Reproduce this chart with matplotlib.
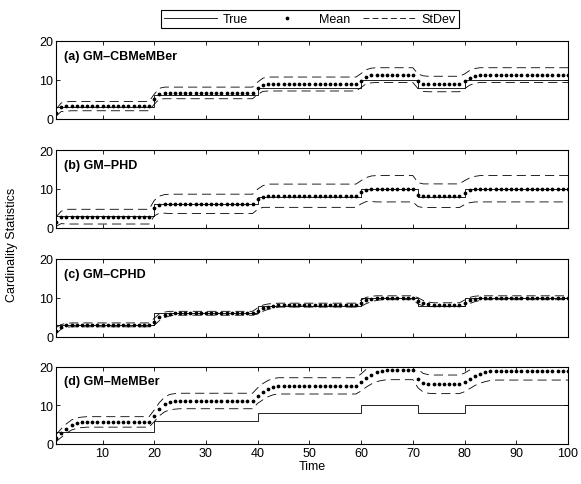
import numpy as np
import matplotlib
matplotlib.use('Agg')
import matplotlib.pyplot as plt
from matplotlib.lines import Line2D

plt.rcParams['font.family'] = ['Liberation Sans', 'DejaVu Sans']
plt.rcParams['font.size'] = 8.5

# --- data ---
time = list(range(1, 101))

true_card = [
    3, 3, 3, 3, 3, 3, 3, 3, 3, 3,
    3, 3, 3, 3, 3, 3, 3, 3, 3, 6,
    6, 6, 6, 6, 6, 6, 6, 6, 6, 6,
    6, 6, 6, 6, 6, 6, 6, 6, 6, 8,
    8, 8, 8, 8, 8, 8, 8, 8, 8, 8,
    8, 8, 8, 8, 8, 8, 8, 8, 8, 10,
    10, 10, 10, 10, 10, 10, 10, 10, 10, 10,
    8, 8, 8, 8, 8, 8, 8, 8, 8, 10,
    10, 10, 10, 10, 10, 10, 10, 10, 10, 10,
    10, 10, 10, 10, 10, 10, 10, 10, 10, 10,
]

# (a) GM-CBMeMBer
cb_mean = [
    1.5, 2.9, 3.1, 3.2, 3.2, 3.2, 3.2, 3.2, 3.2, 3.2,
    3.2, 3.2, 3.2, 3.2, 3.2, 3.2, 3.2, 3.2, 3.2, 5.0,
    6.4, 6.6, 6.6, 6.6, 6.6, 6.6, 6.6, 6.6, 6.6, 6.6,
    6.6, 6.6, 6.6, 6.6, 6.6, 6.6, 6.6, 6.6, 6.6, 7.8,
    8.7, 8.9, 8.9, 8.9, 8.9, 8.9, 8.9, 8.9, 8.9, 8.9,
    8.9, 8.9, 8.9, 8.9, 8.9, 8.9, 8.9, 8.9, 8.9, 9.8,
    10.8, 11.1, 11.2, 11.2, 11.2, 11.2, 11.2, 11.2, 11.2, 11.2,
    9.6, 9.0, 8.9, 8.9, 8.9, 8.9, 8.9, 8.9, 8.9, 9.6,
    10.5, 11.0, 11.2, 11.2, 11.2, 11.2, 11.2, 11.2, 11.2, 11.2,
    11.2, 11.2, 11.2, 11.2, 11.2, 11.2, 11.2, 11.2, 11.2, 11.2,
]
cb_std = [
    0.9, 1.1, 1.2, 1.2, 1.2, 1.2, 1.2, 1.2, 1.2, 1.2,
    1.2, 1.2, 1.2, 1.2, 1.2, 1.2, 1.2, 1.2, 1.2, 1.3,
    1.4, 1.5, 1.5, 1.5, 1.5, 1.5, 1.5, 1.5, 1.5, 1.5,
    1.5, 1.5, 1.5, 1.5, 1.5, 1.5, 1.5, 1.5, 1.5, 1.6,
    1.7, 1.8, 1.8, 1.8, 1.8, 1.8, 1.8, 1.8, 1.8, 1.8,
    1.8, 1.8, 1.8, 1.8, 1.8, 1.8, 1.8, 1.8, 1.8, 1.8,
    1.8, 1.9, 1.9, 1.9, 1.9, 1.9, 1.9, 1.9, 1.9, 1.9,
    1.9, 2.0, 2.0, 2.0, 2.0, 2.0, 2.0, 2.0, 2.0, 1.9,
    1.9, 1.9, 1.9, 1.9, 1.9, 1.9, 1.9, 1.9, 1.9, 1.9,
    1.9, 1.9, 1.9, 1.9, 1.9, 1.9, 1.9, 1.9, 1.9, 1.9,
]

# (b) GM-PHD
phd_mean = [
    1.5, 2.6, 2.8, 2.8, 2.8, 2.8, 2.8, 2.8, 2.8, 2.8,
    2.8, 2.8, 2.8, 2.8, 2.8, 2.8, 2.8, 2.8, 2.8, 5.0,
    5.9, 6.1, 6.1, 6.1, 6.1, 6.1, 6.1, 6.1, 6.1, 6.1,
    6.1, 6.1, 6.1, 6.1, 6.1, 6.1, 6.1, 6.1, 6.1, 7.3,
    8.0, 8.2, 8.2, 8.2, 8.2, 8.2, 8.2, 8.2, 8.2, 8.2,
    8.2, 8.2, 8.2, 8.2, 8.2, 8.2, 8.2, 8.2, 8.2, 9.1,
    9.8, 10.0, 10.0, 10.0, 10.0, 10.0, 10.0, 10.0, 10.0, 10.0,
    8.5, 8.2, 8.2, 8.2, 8.2, 8.2, 8.2, 8.2, 8.2, 9.0,
    9.6, 9.9, 10.0, 10.0, 10.0, 10.0, 10.0, 10.0, 10.0, 10.0,
    10.0, 10.0, 10.0, 10.0, 10.0, 10.0, 10.0, 10.0, 10.0, 10.0,
]
phd_std = [
    1.2, 1.6, 1.9, 1.9, 1.9, 1.9, 1.9, 1.9, 1.9, 1.9,
    1.9, 1.9, 1.9, 1.9, 1.9, 1.9, 1.9, 1.9, 1.9, 2.0,
    2.2, 2.4, 2.5, 2.5, 2.5, 2.5, 2.5, 2.5, 2.5, 2.5,
    2.5, 2.5, 2.5, 2.5, 2.5, 2.5, 2.5, 2.5, 2.5, 2.6,
    2.8, 3.0, 3.0, 3.0, 3.0, 3.0, 3.0, 3.0, 3.0, 3.0,
    3.0, 3.0, 3.0, 3.0, 3.0, 3.0, 3.0, 3.0, 3.0, 3.0,
    3.1, 3.3, 3.4, 3.4, 3.4, 3.4, 3.4, 3.4, 3.4, 3.4,
    3.1, 3.05, 3.05, 3.05, 3.05, 3.05, 3.05, 3.05, 3.05, 3.1,
    3.2, 3.3, 3.4, 3.4, 3.4, 3.4, 3.4, 3.4, 3.4, 3.4,
    3.4, 3.4, 3.4, 3.4, 3.4, 3.4, 3.4, 3.4, 3.4, 3.4,
]

# (c) GM-CPHD
cphd_mean = [
    1.5, 2.5, 2.9, 3.0, 3.0, 3.0, 3.0, 3.0, 3.0, 3.0,
    3.0, 3.0, 3.0, 3.0, 3.0, 3.0, 3.0, 3.0, 3.0, 3.8,
    5.0, 5.6, 5.9, 6.0, 6.0, 6.0, 6.0, 6.0, 6.0, 6.0,
    6.0, 6.0, 6.0, 6.0, 6.0, 6.0, 6.0, 6.0, 6.0, 6.6,
    7.3, 7.7, 7.9, 8.1, 8.1, 8.1, 8.1, 8.1, 8.1, 8.1,
    8.1, 8.1, 8.1, 8.1, 8.1, 8.1, 8.1, 8.1, 8.1, 8.6,
    9.3, 9.7, 9.9, 10.0, 10.0, 10.0, 10.0, 10.0, 10.0, 10.0,
    9.2, 8.6, 8.3, 8.2, 8.2, 8.2, 8.2, 8.2, 8.2, 8.6,
    9.3, 9.7, 9.9, 10.0, 10.0, 10.0, 10.0, 10.0, 10.0, 10.0,
    10.0, 10.0, 10.0, 10.0, 10.0, 10.0, 10.0, 10.0, 10.0, 10.0,
]
cphd_std = [
    0.8, 0.6, 0.5, 0.5, 0.5, 0.5, 0.5, 0.5, 0.5, 0.5,
    0.5, 0.5, 0.5, 0.5, 0.5, 0.5, 0.5, 0.5, 0.5, 0.9,
    0.9, 0.7, 0.6, 0.5, 0.5, 0.5, 0.5, 0.5, 0.5, 0.5,
    0.5, 0.5, 0.5, 0.5, 0.5, 0.5, 0.5, 0.5, 0.5, 0.8,
    0.8, 0.7, 0.6, 0.5, 0.5, 0.5, 0.5, 0.5, 0.5, 0.5,
    0.5, 0.5, 0.5, 0.5, 0.5, 0.5, 0.5, 0.5, 0.5, 0.8,
    0.8, 0.7, 0.6, 0.5, 0.5, 0.5, 0.5, 0.5, 0.5, 0.5,
    0.8, 0.7, 0.6, 0.5, 0.5, 0.5, 0.5, 0.5, 0.5, 0.8,
    0.8, 0.7, 0.6, 0.5, 0.5, 0.5, 0.5, 0.5, 0.5, 0.5,
    0.5, 0.5, 0.5, 0.5, 0.5, 0.5, 0.5, 0.5, 0.5, 0.5,
]

# (d) GM-MeMBer
mb_mean = [
    1.5, 2.8, 4.0, 4.9, 5.4, 5.6, 5.7, 5.7, 5.7, 5.7,
    5.7, 5.7, 5.7, 5.7, 5.7, 5.7, 5.7, 5.7, 5.7, 7.3,
    9.0, 10.2, 10.8, 11.0, 11.1, 11.1, 11.1, 11.1, 11.1, 11.1,
    11.1, 11.1, 11.1, 11.1, 11.1, 11.1, 11.1, 11.1, 11.1, 12.5,
    13.5, 14.3, 14.8, 15.0, 15.0, 15.0, 15.0, 15.0, 15.0, 15.0,
    15.0, 15.0, 15.0, 15.0, 15.0, 15.0, 15.0, 15.0, 15.0, 15.9,
    17.0, 17.9, 18.5, 18.8, 19.0, 19.0, 19.0, 19.0, 19.0, 19.0,
    16.9, 15.8, 15.5, 15.4, 15.4, 15.4, 15.4, 15.4, 15.4, 15.9,
    16.7, 17.5, 18.1, 18.5, 18.8, 18.9, 18.9, 18.9, 18.9, 18.9,
    18.9, 18.9, 18.9, 18.9, 18.9, 18.9, 18.9, 18.9, 18.9, 18.9,
]
mb_std = [
    0.9, 1.1, 1.2, 1.3, 1.35, 1.35, 1.35, 1.35, 1.35, 1.35,
    1.35, 1.35, 1.35, 1.35, 1.35, 1.35, 1.35, 1.35, 1.35, 1.5,
    1.7, 1.9, 2.0, 2.0, 2.0, 2.0, 2.0, 2.0, 2.0, 2.0,
    2.0, 2.0, 2.0, 2.0, 2.0, 2.0, 2.0, 2.0, 2.0, 2.0,
    2.1, 2.1, 2.1, 2.1, 2.1, 2.1, 2.1, 2.1, 2.1, 2.1,
    2.1, 2.1, 2.1, 2.1, 2.1, 2.1, 2.1, 2.1, 2.1, 2.2,
    2.3, 2.4, 2.4, 2.4, 2.4, 2.4, 2.4, 2.4, 2.4, 2.4,
    2.4, 2.4, 2.4, 2.4, 2.4, 2.4, 2.4, 2.4, 2.4, 2.4,
    2.4, 2.4, 2.4, 2.4, 2.4, 2.4, 2.4, 2.4, 2.4, 2.4,
    2.4, 2.4, 2.4, 2.4, 2.4, 2.4, 2.4, 2.4, 2.4, 2.4,
]

labels = ['(a) GM\u2013CBMeMBer', '(b) GM\u2013PHD', '(c) GM\u2013CPHD', '(d) GM\u2013MeMBer']
means = [cb_mean, phd_mean, cphd_mean, mb_mean]
stds = [cb_std, phd_std, cphd_std, mb_std]

# --- figure ---
fig = plt.figure(figsize=(5.81, 4.85), dpi=100)
W, H = 581.0, 485.0
left, right = 56 / W, 568 / W
tops = [42, 151, 260, 367.5]
ax_h = 77.5

dash = (0, (11, 6))
t = np.array(time)
for k in range(4):
    y0 = 1 - (tops[k] + ax_h) / H
    ax = fig.add_axes([left, y0, right - left, ax_h / H])
    m = np.array(means[k])
    s = np.array(stds[k])
    ax.plot(t, true_card, color='k', lw=0.6, drawstyle='steps-post')
    ax.plot(t, m + s, color='k', lw=0.6, linestyle=dash)
    ax.plot(t, m - s, color='k', lw=0.6, linestyle=dash)
    ax.plot(t, m, 'k.', ms=3.4)
    ax.set_xlim(1, 100)
    ax.set_ylim(0, 20)
    ax.set_yticks([0, 10, 20])
    ax.set_xticks(range(10, 101, 10))
    ax.tick_params(direction='in', top=True, right=True, length=3,
                   width=0.6, labelsize=9, pad=2)
    if k < 3:
        ax.set_xticklabels([])
    else:
        ax.set_xlabel('Time', fontsize=9, labelpad=1)
    for sp in ax.spines.values():
        sp.set_linewidth(0.8)
    ax.text(0.015, 0.81, labels[k], transform=ax.transAxes,
            fontsize=9, fontweight='bold', va='center', ha='left')

fig.text(12 / W, 1 - 245 / H, 'Cardinality Statistics', rotation=90,
         ha='center', va='center', fontsize=9)

handles = [
    Line2D([], [], color='k', lw=0.6),
    Line2D([], [], color='k', marker='.', ms=3.4, lw=0),
    Line2D([], [], color='k', lw=0.6, linestyle=(0, (7, 4))),
]
leg = fig.legend(handles, ['True', 'Mean', 'StDev'], ncol=3,
                 loc='center', bbox_to_anchor=(310 / W, 1 - 20 / H),
                 fontsize=9, handlelength=4.2, handletextpad=0.5,
                 columnspacing=1.0, borderpad=0.25, fancybox=False,
                 framealpha=1, edgecolor='k')
leg.get_frame().set_linewidth(0.8)

fig.savefig('out.png', dpi=100)
